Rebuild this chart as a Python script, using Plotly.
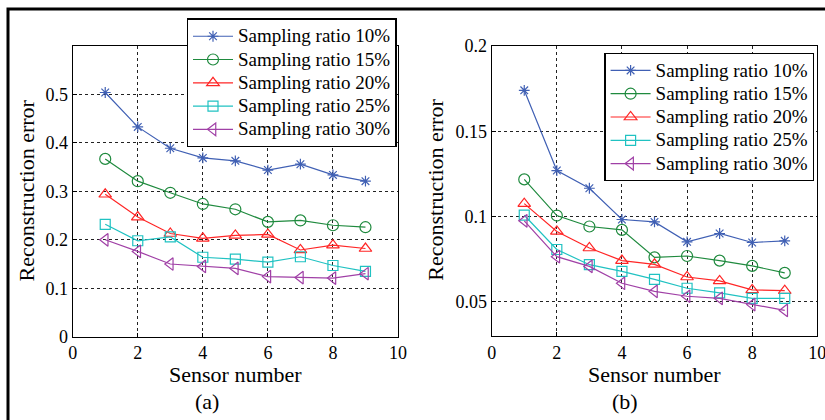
import plotly.graph_objects as go

W, H = 825, 420

sensors = [1, 2, 3, 4, 5, 6, 7, 8, 9]
series_names = ["Sampling ratio 10%", "Sampling ratio 15%", "Sampling ratio 20%",
                "Sampling ratio 25%", "Sampling ratio 30%"]

# panel (a)
a_10 = [0.504, 0.433, 0.389, 0.369, 0.363, 0.344, 0.356, 0.334, 0.321]
a_15 = [0.367, 0.321, 0.297, 0.274, 0.263, 0.237, 0.240, 0.230, 0.226]
a_20 = [0.294, 0.247, 0.213, 0.203, 0.209, 0.211, 0.179, 0.189, 0.182]
a_25 = [0.232, 0.198, 0.206, 0.164, 0.160, 0.154, 0.165, 0.147, 0.135]
a_30 = [0.200, 0.176, 0.150, 0.145, 0.141, 0.124, 0.122, 0.121, 0.130]

# panel (b)
b_10 = [0.174, 0.127, 0.1166, 0.0983, 0.0969, 0.0852, 0.0901, 0.0848, 0.0858]
b_15 = [0.1218, 0.1006, 0.0942, 0.0922, 0.0761, 0.0769, 0.0742, 0.0711, 0.0670]
b_20 = [0.1076, 0.0913, 0.0816, 0.0742, 0.0720, 0.0646, 0.0623, 0.0570, 0.0566]
b_25 = [0.1008, 0.0807, 0.0718, 0.0679, 0.0632, 0.0580, 0.0553, 0.0521, 0.0521]
b_30 = [0.0975, 0.0765, 0.0708, 0.0609, 0.0562, 0.0533, 0.0521, 0.0484, 0.0450]

x_ticks = [0, 2, 4, 6, 8, 10]
a_yticks = [0, 0.1, 0.2, 0.3, 0.4, 0.5]
a_yticktext = ["0", "0.1", "0.2", "0.3", "0.4", "0.5"]
b_yticks = [0.05, 0.1, 0.15, 0.2]
b_yticktext = ["0.05", "0.1", "0.15", "0.2"]

colors = ["#4060b4", "#1f8a3e", "#ff2626", "#20c2c2", "#a040a6"]
symbols = ["asterisk-open", "circle-open", "triangle-up-open", "square-open", "triangle-left-open"]
sizes = [9, 11, 11, 10, 11]

FONT = "Liberation Serif, Times New Roman, serif"
LEG_TEXT_SIZE = 19

fig = go.Figure()

def legend_label(s):
    return f"<span style='font-size:{LEG_TEXT_SIZE}px'>{s}</span>"

for i, ys in enumerate([a_10, a_15, a_20, a_25, a_30]):
    fig.add_trace(go.Scatter(
        x=sensors, y=ys, mode="lines+markers", name=legend_label(series_names[i]),
        line=dict(color=colors[i], width=1.2),
        marker=dict(symbol=symbols[i], size=sizes[i], color=colors[i],
                    line=dict(color=colors[i], width=1.2)),
        xaxis="x", yaxis="y", legend="legend"))

for i, ys in enumerate([b_10, b_15, b_20, b_25, b_30]):
    fig.add_trace(go.Scatter(
        x=sensors, y=ys, mode="lines+markers", name=legend_label(series_names[i]),
        line=dict(color=colors[i], width=1.2),
        marker=dict(symbol=symbols[i], size=sizes[i], color=colors[i],
                    line=dict(color=colors[i], width=1.2)),
        xaxis="x2", yaxis="y2", legend="legend2"))

def px_x(p):
    return p / W

def px_y(p):
    return 1 - p / H

axis_common = dict(
    showline=True, linecolor="black", linewidth=1.3, mirror=True,
    ticks="inside", ticklen=4, tickcolor="black",
    showgrid=True, gridcolor="#222222", griddash="dot", gridwidth=1,
    zeroline=False, automargin=False, ticklabeloverflow="allow",
    tickfont=dict(family=FONT, size=18, color="black"),
)

leg_common = dict(xanchor="left", yanchor="top",
                  bgcolor="white", bordercolor="black", borderwidth=1.3,
                  font=dict(family=FONT, size=15.6, color="black"),
                  itemwidth=40, tracegroupgap=0)

fig.update_layout(
    width=W, height=H,
    margin=dict(l=0, r=0, t=0, b=0, autoexpand=False),
    paper_bgcolor="white", plot_bgcolor="white",
    font=dict(family=FONT, color="black"),
    xaxis=dict(domain=[px_x(72.7), px_x(398)], range=[0, 10], tickvals=x_ticks,
               anchor="y", **axis_common),
    yaxis=dict(domain=[px_y(336.7), px_y(46)], range=[0, 0.6], tickvals=a_yticks,
               ticktext=a_yticktext, anchor="x", **axis_common),
    xaxis2=dict(domain=[px_x(491.7), px_x(817.3)], range=[0, 10], tickvals=x_ticks,
                anchor="y2", **axis_common),
    yaxis2=dict(domain=[px_y(336), px_y(46)], range=[0.03, 0.2], tickvals=b_yticks,
                ticktext=b_yticktext, anchor="x2", **axis_common),
    legend=dict(x=px_x(186.7), y=px_y(18.3), **leg_common),
    legend2=dict(x=px_x(604.3), y=px_y(52.5), **leg_common),
    showlegend=True,
)

ann_font = dict(family=FONT, size=22, color="black")
annotations = [
    dict(text="Reconstruction error", x=px_x(26.7), y=px_y(190.8), textangle=-90),
    dict(text="Reconstruction error", x=px_x(435.7), y=px_y(190), textangle=-90),
    dict(text="Sensor number", x=px_x(235.3), y=px_y(374)),
    dict(text="Sensor number", x=px_x(654.5), y=px_y(374)),
    dict(text="(a)", x=px_x(206.7), y=px_y(401)),
    dict(text="(b)", x=px_x(625), y=px_y(401)),
]
for a in annotations:
    fig.add_annotation(xref="paper", yref="paper", showarrow=False,
                       xanchor="center", yanchor="middle", font=ann_font, **a)

# outer frame (left and top edges)
fig.add_shape(type="path", xref="paper", yref="paper",
              path=f"M {px_x(8)} {px_y(425)} L {px_x(8)} {px_y(9)} L {px_x(830)} {px_y(9)}",
              line=dict(color="black", width=3))

fig.write_html("out.html")
